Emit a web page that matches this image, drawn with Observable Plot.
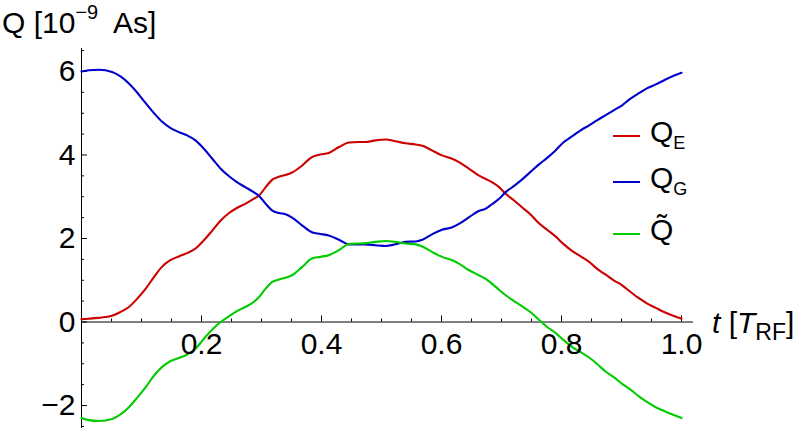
<!DOCTYPE html>
<html><head><meta charset="utf-8">
<script src="https://cdn.jsdelivr.net/npm/d3@7"></script>
<script src="https://cdn.jsdelivr.net/npm/@observablehq/plot@0.6"></script>
<style>
body{margin:0;background:#fff}
#chart{position:relative;width:800px;height:429px;overflow:hidden}
</style>
</head><body><div id="chart"></div>
<script>
// time in units of T_RF
const t = [0,0.012,0.029,0.051,0.065,0.079,0.093,0.107,0.121,0.134,0.148,0.162,0.176,0.19,0.204,0.218,0.232,0.246,0.259,0.273,0.287,0.296,0.307,0.318,
  0.329,0.34,0.351,0.368,0.384,0.398,0.412,0.429,0.446,0.462,0.473,0.49,0.507,0.523,0.54,0.557,0.568,0.584,0.601,0.618,0.629,0.646,
  0.662,0.673,0.684,0.696,0.707,0.721,0.734,0.748,0.762,0.776,0.79,0.804,0.818,0.832,0.846,0.859,0.873,0.887,0.901,0.915,0.929,0.943,0.957,0.971,0.984,1.0];
// Q_E [1e-9 As]
const qE = [0.07,0.08,0.10,0.15,0.24,0.36,0.56,0.80,1.08,1.32,1.48,1.57,1.65,1.76,1.96,2.19,2.43,2.61,2.73,2.83,2.95,3.03,3.23,3.41,
  3.48,3.52,3.58,3.75,3.95,4.01,4.05,4.19,4.30,4.31,4.31,4.35,4.37,4.33,4.28,4.25,4.22,4.11,3.99,3.91,3.83,3.67,
  3.51,3.43,3.35,3.23,3.07,2.91,2.75,2.58,2.37,2.21,2.05,1.86,1.70,1.57,1.44,1.28,1.14,1.00,0.88,0.72,0.57,0.44,0.34,0.24,0.16,0.08];
// Q_G [1e-9 As]
const qG = [6.00,6.03,6.04,5.99,5.88,5.71,5.49,5.24,5.00,4.80,4.65,4.55,4.47,4.35,4.15,3.91,3.67,3.49,3.35,3.23,3.11,3.02,2.83,2.67,
  2.61,2.58,2.50,2.31,2.15,2.11,2.07,1.97,1.86,1.86,1.86,1.84,1.82,1.86,1.92,1.93,1.97,2.10,2.21,2.27,2.35,2.51,
  2.66,2.71,2.82,2.95,3.11,3.26,3.41,3.59,3.77,3.93,4.11,4.31,4.45,4.59,4.71,4.83,4.95,5.07,5.19,5.35,5.48,5.60,5.69,5.79,5.88,5.97];
// Q tilde [1e-9 As]
const qT = [-2.30,-2.35,-2.37,-2.32,-2.21,-2.04,-1.81,-1.56,-1.28,-1.08,-0.94,-0.86,-0.78,-0.64,-0.40,-0.18,0.00,0.14,0.26,0.36,0.48,0.60,0.80,0.96,
  1.02,1.06,1.12,1.32,1.52,1.56,1.60,1.72,1.87,1.88,1.89,1.92,1.94,1.92,1.88,1.86,1.81,1.68,1.56,1.48,1.40,1.24,
  1.12,1.04,0.92,0.77,0.64,0.50,0.38,0.24,0.06,-0.12,-0.26,-0.44,-0.60,-0.72,-0.85,-1.00,-1.18,-1.32,-1.48,-1.62,-1.78,-1.92,-2.04,-2.13,-2.21,-2.30];

const seriesColors = ["#cc0000", "#0000cc", "#00cc00"];
const seriesSub = ["E", "G", ""];
const yMajor = [-2, 0, 2, 4, 6];
const yMinor = [-2.5,-1.5,-1,-0.5,0.5,1,1.5,2.5,3,3.5,4.5,5,5.5,6.5];
const xMajor = [0.2, 0.4, 0.6, 0.8, 1.0];
const xMinor = [0.05,0.1,0.15,0.25,0.3,0.35,0.45,0.5,0.55,0.65,0.7,0.75,0.85,0.9,0.95];

const FONT = "'Liberation Sans', Arial, Helvetica, sans-serif";
const FS = 30;
const series = [qE, qG, qT].map(vals => t.map((d, i) => ({t: d, v: vals[i]})));

const plot = Plot.plot({
  width: 800, height: 429,
  marginLeft: 81, marginRight: 119, marginTop: 48, marginBottom: 1,
  x: {domain: [0, 1], axis: null},
  y: {domain: [-2.55, 6.55], axis: null},
  style: {fontFamily: FONT, background: "#fff", color: "#000"},
  marks: [
    Plot.ruleX([0], {stroke: "#000", strokeWidth: 1}),
    Plot.ruleY([0], {x1: 0, x2: 1.02, stroke: "#000", strokeWidth: 1}),
    Plot.ruleY(yMajor, {y: d => d, x1: 0, x2: 0.01, stroke: "#000"}),
    Plot.ruleY(yMinor, {y: d => d, x1: 0, x2: 0.005, stroke: "#000"}),
    Plot.ruleX(xMajor, {x: d => d, y1: 0, y2: 0.144, stroke: "#000"}),
    Plot.ruleX(xMinor, {x: d => d, y1: 0, y2: 0.072, stroke: "#000"}),
    ...series.map((s, i) => Plot.line(s, {x: "t", y: "v", stroke: seriesColors[i], strokeWidth: 2.1, curve: "monotone-x"})),
    Plot.text(yMajor, {x: 0, y: d => d, text: d => (d < 0 ? "\u2212" + Math.abs(d) : String(d)), textAnchor: "end", dx: -6, fontSize: FS, fill: "#000"}),
    Plot.text(xMajor, {x: d => d, y: 0, text: d => d.toFixed(1), dy: 22, fontSize: FS, fill: "#000"})
  ]
});

const svg = d3.select(plot);
const ann = svg.append("g").attr("font-family", FONT).attr("fill", "#000").attr("text-anchor", "start");
// y-axis label
const ty = ann.append("text").attr("x", 2).attr("y", 33).attr("font-size", FS).attr("text-anchor", "start");
ty.append("tspan").text("Q [10");
ty.append("tspan").attr("font-size", 20).attr("dy", -14).text("\u22129");
ty.append("tspan").attr("font-size", FS).attr("dy", 14).attr("x", 113).text("As]");
// x-axis label
const tx = ann.append("text").attr("x", 712).attr("y", 333).attr("font-size", FS).attr("text-anchor", "start");
tx.append("tspan").attr("font-style", "italic").text("t");
tx.append("tspan").text(" [");
tx.append("tspan").attr("font-style", "italic").text("T");
tx.append("tspan").attr("font-size", 23).attr("dy", 7).text("RF");
tx.append("tspan").attr("font-size", FS).attr("dy", -7).text("]");
// legend
const legendRows = [136, 182, 234];
const lg = ann.selectAll("g.lg").data(seriesColors).join("g").attr("class", "lg")
  .attr("transform", (d, i) => `translate(613,${legendRows[i]})`);
lg.append("line").attr("x1", 0).attr("x2", 27).attr("stroke", d => d).attr("stroke-width", 2);
const lt = lg.append("text").attr("x", 37).attr("y", 6).attr("font-size", FS).attr("text-anchor", "start");
lt.append("tspan").text((d, i) => seriesSub[i] ? "Q" : "Q\u0303");
lt.append("tspan").attr("font-size", 18).attr("dy", 7).text((d, i) => seriesSub[i]);

document.getElementById("chart").appendChild(plot);
</script>
</body></html>
